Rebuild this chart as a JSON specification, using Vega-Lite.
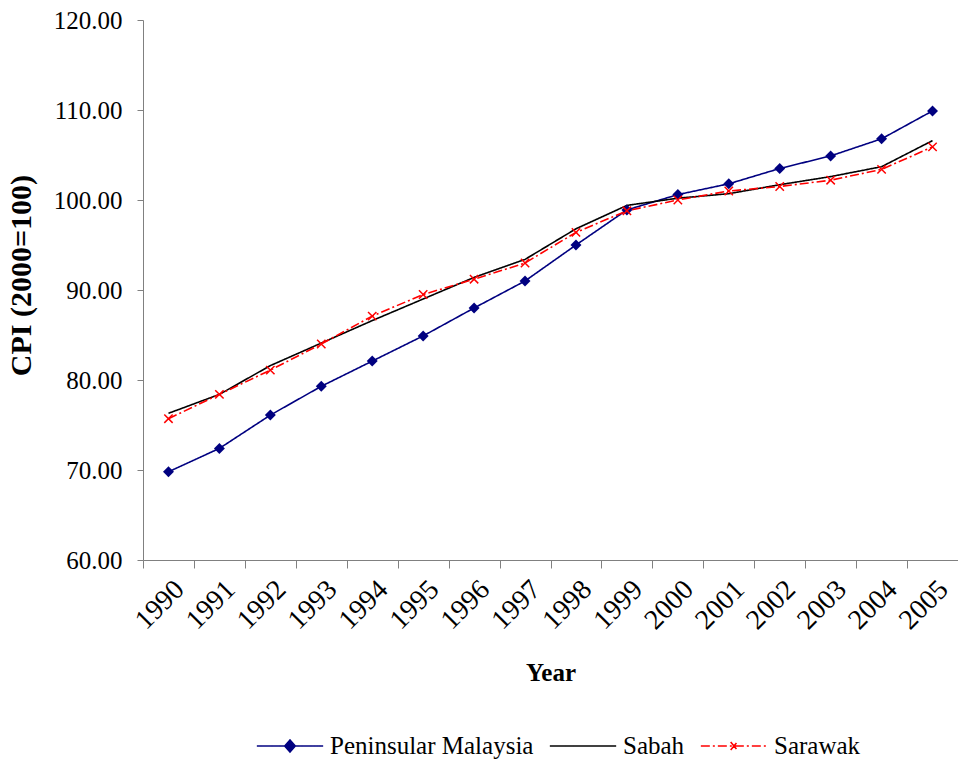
{
  "$schema": "https://vega.github.io/schema/vega-lite/v6.json",
  "autosize": "none",
  "padding": {"left": 143, "top": 20, "right": 0, "bottom": 200},
  "width": 815,
  "height": 540,
  "background": "white",
  "config": {
    "font": "Liberation Serif",
    "view": {"stroke": null},
    "axis": {"labelFont": "Liberation Serif", "titleFont": "Liberation Serif", "labelColor": "black", "titleColor": "black", "domainColor": "#808080", "tickColor": "#808080", "grid": false},
    "legend": {"labelFont": "Liberation Serif", "titleFont": "Liberation Serif"}
  },
  "data": {
    "values": [
      {"year": "1990", "region": "Peninsular Malaysia", "cpi": 69.8},
      {"year": "1991", "region": "Peninsular Malaysia", "cpi": 72.4},
      {"year": "1992", "region": "Peninsular Malaysia", "cpi": 76.1},
      {"year": "1993", "region": "Peninsular Malaysia", "cpi": 79.3},
      {"year": "1994", "region": "Peninsular Malaysia", "cpi": 82.1},
      {"year": "1995", "region": "Peninsular Malaysia", "cpi": 84.9},
      {"year": "1996", "region": "Peninsular Malaysia", "cpi": 88.0},
      {"year": "1997", "region": "Peninsular Malaysia", "cpi": 91.0},
      {"year": "1998", "region": "Peninsular Malaysia", "cpi": 95.0},
      {"year": "1999", "region": "Peninsular Malaysia", "cpi": 98.9},
      {"year": "2000", "region": "Peninsular Malaysia", "cpi": 100.6},
      {"year": "2001", "region": "Peninsular Malaysia", "cpi": 101.8},
      {"year": "2002", "region": "Peninsular Malaysia", "cpi": 103.5},
      {"year": "2003", "region": "Peninsular Malaysia", "cpi": 104.9},
      {"year": "2004", "region": "Peninsular Malaysia", "cpi": 106.8},
      {"year": "2005", "region": "Peninsular Malaysia", "cpi": 109.9},
      {"year": "1990", "region": "Sabah", "cpi": 76.3},
      {"year": "1991", "region": "Sabah", "cpi": 78.4},
      {"year": "1992", "region": "Sabah", "cpi": 81.6},
      {"year": "1993", "region": "Sabah", "cpi": 84.1},
      {"year": "1994", "region": "Sabah", "cpi": 86.6},
      {"year": "1995", "region": "Sabah", "cpi": 89.0},
      {"year": "1996", "region": "Sabah", "cpi": 91.4},
      {"year": "1997", "region": "Sabah", "cpi": 93.4},
      {"year": "1998", "region": "Sabah", "cpi": 96.8},
      {"year": "1999", "region": "Sabah", "cpi": 99.4},
      {"year": "2000", "region": "Sabah", "cpi": 100.2},
      {"year": "2001", "region": "Sabah", "cpi": 100.7},
      {"year": "2002", "region": "Sabah", "cpi": 101.7},
      {"year": "2003", "region": "Sabah", "cpi": 102.6},
      {"year": "2004", "region": "Sabah", "cpi": 103.7},
      {"year": "2005", "region": "Sabah", "cpi": 106.6},
      {"year": "1990", "region": "Sarawak", "cpi": 75.7},
      {"year": "1991", "region": "Sarawak", "cpi": 78.4},
      {"year": "1992", "region": "Sarawak", "cpi": 81.1},
      {"year": "1993", "region": "Sarawak", "cpi": 84.0},
      {"year": "1994", "region": "Sarawak", "cpi": 87.1},
      {"year": "1995", "region": "Sarawak", "cpi": 89.5},
      {"year": "1996", "region": "Sarawak", "cpi": 91.2},
      {"year": "1997", "region": "Sarawak", "cpi": 93.0},
      {"year": "1998", "region": "Sarawak", "cpi": 96.4},
      {"year": "1999", "region": "Sarawak", "cpi": 98.8},
      {"year": "2000", "region": "Sarawak", "cpi": 100.0},
      {"year": "2001", "region": "Sarawak", "cpi": 101.0},
      {"year": "2002", "region": "Sarawak", "cpi": 101.5},
      {"year": "2003", "region": "Sarawak", "cpi": 102.2},
      {"year": "2004", "region": "Sarawak", "cpi": 103.4},
      {"year": "2005", "region": "Sarawak", "cpi": 105.9}
    ]
  },
  "encoding": {
    "x": {
      "field": "year", "type": "ordinal",
      "scale": {"type": "band", "paddingInner": 0, "paddingOuter": 0},
      "axis": {
        "title": "Year", "titleFontSize": 25, "titleFontWeight": "bold", "titlePadding": 26,
        "labelAngle": -45, "labelAlign": "right", "labelBaseline": "middle", "labelFontSize": 28,
        "labelPadding": 17, "labelOffset": 11, "tickBand": "extent", "tickSize": 8
      }
    },
    "y": {
      "field": "cpi", "type": "quantitative",
      "scale": {"domain": [60, 120], "nice": false, "zero": false},
      "axis": {
        "title": "CPI (2000=100)", "titleFontSize": 30, "titleFontWeight": "bold", "titlePadding": 17, "titleY": 255,
        "values": [60, 70, 80, 90, 100, 110, 120], "format": ".2f",
        "labelFontSize": 25, "labelPadding": 15, "tickSize": 6
      }
    }
  },
  "layer": [
    {
      "mark": {"type": "line", "strokeWidth": 1.6},
      "encoding": {
        "color": {
          "field": "region", "type": "nominal",
          "scale": {"domain": ["Peninsular Malaysia", "Sabah", "Sarawak"], "range": ["#000080", "#000000", "#ff0000"]},
          "legend": {
            "title": null, "orient": "none", "direction": "horizontal", "legendX": 113, "legendY": 692,
            "labelFontSize": 25, "labelColor": "black", "labelLimit": 0, "symbolType": "stroke", "symbolSize": 4400,
            "symbolStrokeWidth": 1.6, "columnPadding": 12, "labelOffset": 6,
            "encode": {
              "symbols": {
                "update": {
                  "shape": {"signal": "datum.value === 'Peninsular Malaysia' ? 'M-1,0L1,0M0,-0.18L0.16,0L0,0.18L-0.16,0Z' : datum.value === 'Sarawak' ? 'M-1,0L1,0M-0.1,-0.12L0.1,0.12M-0.1,0.12L0.1,-0.12' : 'M-1,0L1,0'"},
                  "fill": {"signal": "datum.value === 'Peninsular Malaysia' ? '#000080' : 'transparent'"}
                }
              }
            }
          }
        },
        "strokeDash": {
          "field": "region", "type": "nominal",
          "scale": {"domain": ["Peninsular Malaysia", "Sabah", "Sarawak"], "range": [[1, 0], [1, 0], [9, 3, 2, 3]]},
          "legend": null
        }
      }
    },
    {
      "transform": [{"filter": "datum.region === 'Peninsular Malaysia'"}],
      "mark": {"type": "point", "shape": "diamond", "filled": true, "color": "#000080", "size": 120, "opacity": 1}
    },
    {
      "transform": [{"filter": "datum.region === 'Sarawak'"}],
      "mark": {"type": "point", "shape": "M-1,-1L1,1M-1,1L1,-1", "filled": false, "stroke": "#ff0000", "strokeWidth": 1.5, "size": 70, "opacity": 1}
    }
  ]
}
